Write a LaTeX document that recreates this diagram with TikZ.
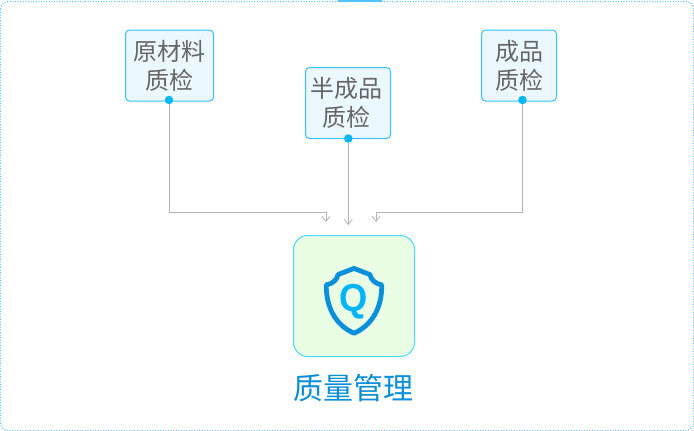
\documentclass[tikz,border=0pt]{standalone}
\usepackage{fontspec}
\setmainfont{Noto Sans CJK SC}
\newfontfamily\latinbold[Scale=1]{Liberation Sans}
\usetikzlibrary{arrows.meta,positioning,calc}
\definecolor{framec}{HTML}{55C4FF}
\definecolor{boxedge}{HTML}{35C2FF}
\definecolor{boxfill}{HTML}{EBF8FF}
\definecolor{mainfill}{HTML}{E8FDE3}
\definecolor{mainedge}{HTML}{45DBF5}
\definecolor{dotc}{HTML}{00B6FF}
\definecolor{linkc}{HTML}{B4B4B4}
\definecolor{txtc}{HTML}{666666}
\definecolor{titlec}{HTML}{0A8FD8}
\definecolor{shieldc}{HTML}{0A90DA}
\definecolor{qc}{HTML}{00B4F8}
\tikzset{
  x=1pt,y=-1pt,
  stagebox/.style={draw=boxedge,fill=boxfill,rounded corners=4pt,line width=1pt,inner sep=0pt,
    text=txtc,align=center,font=\fontsize{24}{29}\selectfont},
  dotnode/.style={circle,fill=dotc,minimum size=8.5pt,inner sep=0pt},
  link/.style={draw=linkc,line width=1pt,-{Straight Barb[length=5pt,width=8pt,line width=0.8pt]}},
}
\begin{document}
\begin{tikzpicture}
\useasboundingbox (0,0) rectangle (694,431);
\fill[white] (0,0) rectangle (694,431);
\draw[framec,line width=1pt,dash pattern=on 1pt off 1.6pt,rounded corners=8pt] (0.5,1.5) rectangle (693.5,430.5);
\fill[framec!85!boxedge] (338,0) rectangle (382,2.4);

\node[stagebox,minimum width=88pt,minimum height=71pt] (a) at (169.5,65.5) {原材料\\质检};
\node[stagebox,minimum width=85pt,minimum height=71pt,text width=81pt,xshift=0pt] (b) at (348,103) {\hspace*{-4pt}半成品\\\hspace*{-4pt}质检};
\node[stagebox,minimum width=75pt,minimum height=71pt] (c) at (519,65.5) {成品\\质检};
\node[draw=mainedge,fill=mainfill,rounded corners=14pt,line width=1pt,minimum width=121pt,minimum height=121pt,inner sep=0pt] (m) at (354,296) {};
\node[text=titlec,font=\fontsize{30}{36}\selectfont,inner sep=0pt] (t) at (353.5,388.5) {质量管理};

\node[dotnode] (da) at (169,100) {};
\node[dotnode] (db) at (348.3,138.5) {};
\node[dotnode] (dc) at (522.5,100) {};

\coordinate (ea) at (326,222);
\coordinate (eb) at (348.3,225);
\coordinate (ec) at (376,222);
\draw[link] (da) |- (326,212) -- (ea);
\draw[link] (db) -- (eb);
\draw[link] (dc) |- (376,212) -- (ec);

% shield
\draw[shieldc,line width=4.8pt,line join=round]
  (354,268.4) -- (338,274.6) .. controls (337,279.5) and (333.5,283.5) .. (326.3,284.8)
  .. controls (325.8,306) and (335,325) .. (354,333.2)
  .. controls (373,325) and (382.2,306) .. (381.7,284.8)
  .. controls (374.5,283.5) and (371,279.5) .. (370,274.6) -- cycle;
\node[text=qc,font=\latinbold\bfseries\fontsize{39}{39}\selectfont,inner sep=0pt,xscale=0.93] (q) at (354,302) {Q};
\end{tikzpicture}
\end{document}
